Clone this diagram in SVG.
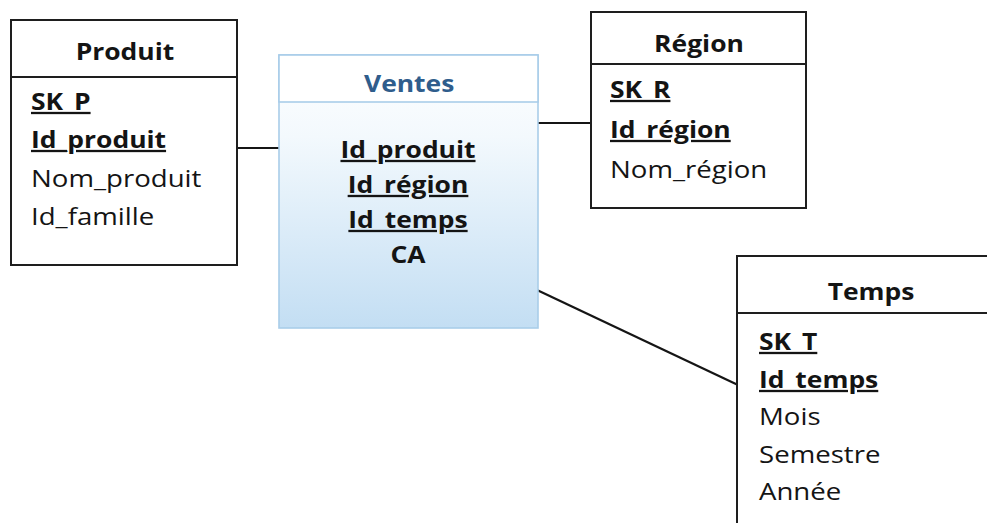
<svg xmlns="http://www.w3.org/2000/svg" width="987" height="523" viewBox="0 0 987 523">
  <style>
    .box { fill: #ffffff; stroke: #1e1e1e; stroke-width: 2; }
    .sep { stroke: #1e1e1e; stroke-width: 2; }
    .link { stroke: #151515; stroke-width: 2.2; fill: none; }
    text { font-family: "Open Sans", "Liberation Sans", sans-serif; font-size: 24px; fill: #141414; }
    .title { font-weight: 700; font-size: 23px; text-anchor: middle; }
    .key { font-weight: 700; font-size: 23px; text-decoration: underline; }
    .fact { stroke: #a9cde9; stroke-width: 1.6; }
    .facttitle { fill: #2f5d8c; }
    .mid { text-anchor: middle; }
  </style>
  <defs>
    <linearGradient id="factFill" x1="0" y1="0" x2="0" y2="1">
      <stop offset="0" stop-color="#ffffff"/>
      <stop offset="0.3" stop-color="#f3f9fd"/>
      <stop offset="1" stop-color="#c3def3"/>
    </linearGradient>
  </defs>

  <!-- connectors between the fact table and the dimensions -->
  <g id="connectors">
    <line class="link" x1="237" y1="148" x2="279" y2="148"/>
    <line class="link" x1="538" y1="123" x2="591" y2="123"/>
    <line class="link" x1="537" y1="290" x2="738" y2="385"/>
  </g>

  <!-- dimension: Produit -->
  <g id="produit">
    <rect class="box" x="11" y="20" width="226" height="245"/>
    <line class="sep" x1="11" y1="77" x2="237" y2="77"/>
    <g transform="translate(31,0) scale(1.15,1)">
      <text class="title" x="81.7" y="60">Produit</text>
      <text class="key" x="0" y="110">SK_P</text>
      <text class="key" x="0" y="148">Id_produit</text>
      <text x="0" y="187">Nom_produit</text>
      <text x="0" y="225">Id_famille</text>
    </g>
  </g>

  <!-- fact table: Ventes -->
  <g id="ventes">
    <rect class="fact" x="279" y="55" width="259" height="273" fill="url(#factFill)"/>
    <rect class="fact" x="279" y="55" width="259" height="47" fill="#ffffff"/>
    <g transform="translate(408,0) scale(1.15,1)">
      <text class="title facttitle" x="1" y="92">Ventes</text>
      <text class="key mid" x="0" y="158">Id_produit</text>
      <text class="key mid" x="0" y="193">Id_région</text>
      <text class="key mid" x="0" y="228">Id_temps</text>
      <text class="title" x="0" y="263">CA</text>
    </g>
  </g>

  <!-- dimension: Région -->
  <g id="region">
    <rect class="box" x="591" y="12" width="215" height="196"/>
    <line class="sep" x1="591" y1="64" x2="806" y2="64"/>
    <g transform="translate(610,0) scale(1.15,1)">
      <text class="title" x="77.4" y="52">Région</text>
      <text class="key" x="0" y="98">SK_R</text>
      <text class="key" x="0" y="138">Id_région</text>
      <text x="0" y="178">Nom_région</text>
    </g>
  </g>

  <!-- dimension: Temps (runs past the right and bottom edges) -->
  <g id="temps">
    <rect class="box" x="737" y="256" width="270" height="290"/>
    <line class="sep" x1="737" y1="313" x2="990" y2="313"/>
    <g transform="translate(759,0) scale(1.15,1)">
      <text class="title" x="97.4" y="300">Temps</text>
      <text class="key" x="0" y="350">SK_T</text>
      <text class="key" x="0" y="388">Id_temps</text>
      <text x="0" y="425">Mois</text>
      <text x="0" y="463">Semestre</text>
      <text x="0" y="500">Année</text>
    </g>
  </g>
</svg>
